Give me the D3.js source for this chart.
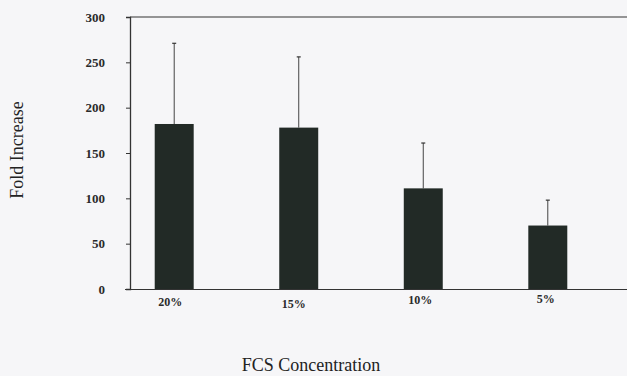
<!DOCTYPE html>
<html><head><meta charset="utf-8">
<script src="https://cdn.jsdelivr.net/npm/d3@7"></script>
<style>body{margin:0;background:#f6f6f8;}svg{display:block;}</style>
</head><body>
<svg id="c" width="627" height="376"></svg>
<script>
const categories = ["20%", "15%", "10%", "5%"];
const means = [182, 178, 111, 70];
const errors = [89, 78, 50, 28];
const yTicks = [0, 50, 100, 150, 200, 250, 300];

const svg = d3.select("#c");
svg.append("rect").attr("width", 627).attr("height", 376).attr("fill", "#f6f6f8");

const y = d3.scaleLinear().domain([0, 300]).range([289, 17]);
const x = d3.scaleBand().domain(categories).range([112, 610]).paddingInner(0.687).paddingOuter(0.343);

const ink = "#222a26";
svg.append("line").attr("x1", 130).attr("x2", 627).attr("y1", y(300)).attr("y2", y(300))
  .attr("stroke", "#333").attr("stroke-width", 1.2);
svg.append("line").attr("x1", 125).attr("x2", 627).attr("y1", y(0) + 0.5).attr("y2", y(0) + 0.5)
  .attr("stroke", "#333").attr("stroke-width", 1.2);

const yAxis = svg.append("g").attr("transform", "translate(130,0)")
  .call(d3.axisLeft(y).tickValues(yTicks).tickSize(4).tickPadding(21));
yAxis.select(".domain").attr("stroke", "#333").attr("stroke-width", 1.3);
yAxis.selectAll(".tick line").attr("stroke", "#333");
yAxis.selectAll("text").attr("font-family", "Liberation Serif, serif").attr("font-size", 13)
  .attr("font-weight", "bold").attr("fill", "#2a2a2a");

const g = svg.append("g");
categories.forEach((c, i) => {
  const cx = x(c) + x.bandwidth() / 2;
  g.append("line").attr("x1", cx).attr("x2", cx).attr("y1", y(means[i])).attr("y2", y(means[i] + errors[i]))
    .attr("stroke", "#444").attr("stroke-width", 1);
  g.append("line").attr("x1", cx - 2).attr("x2", cx + 2).attr("y1", y(means[i] + errors[i])).attr("y2", y(means[i] + errors[i]))
    .attr("stroke", "#333").attr("stroke-width", 1.2);
});
g.selectAll("rect.bar").data(categories).join("rect").attr("class", "bar")
  .attr("x", d => x(d)).attr("width", x.bandwidth())
  .attr("y", (d, i) => y(means[i])).attr("height", (d, i) => y(0) - y(means[i]))
  .attr("fill", ink);

const labelDy = [17, 19, 15, 14];
const labelDx = [-4, -5, -3, -2];
svg.selectAll("text.xl").data(categories).join("text").attr("class", "xl")
  .attr("x", (d, i) => x(d) + x.bandwidth() / 2 + labelDx[i])
  .attr("y", (d, i) => y(0) + labelDy[i])
  .attr("text-anchor", "middle").attr("font-family", "Liberation Serif, serif")
  .attr("font-size", 12).attr("font-weight", "bold").attr("fill", "#2a2a2a").text(d => d);

svg.append("text").attr("transform", "translate(23,150) rotate(-90)").attr("text-anchor", "middle")
  .attr("font-family", "Liberation Serif, serif").attr("font-size", 18).attr("fill", "#222").text("Fold Increase");
svg.append("text").attr("x", 311).attr("y", 371).attr("text-anchor", "middle")
  .attr("font-family", "Liberation Serif, serif").attr("font-size", 18).attr("fill", "#222").text("FCS Concentration");
</script>
</body></html>
